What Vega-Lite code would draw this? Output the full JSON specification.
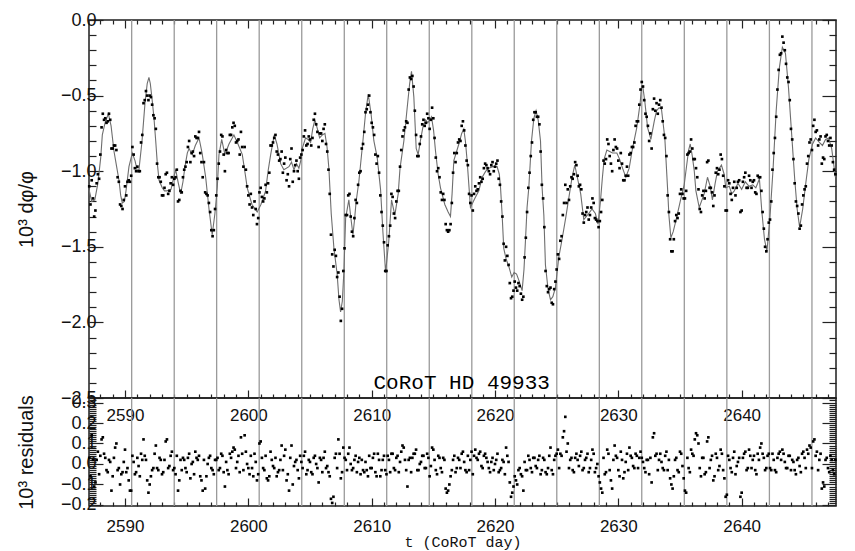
{
  "$schema": "https://vega.github.io/schema/vega-lite/v6.json",
  "padding": {"left": 15, "top": 10, "right": 10, "bottom": 0},
  "background": "#ffffff",
  "config": {
    "view": {"stroke": "#1e1e1e", "strokeWidth": 1.5},
    "axis": {"domain": false, "grid": false, "tickColor": "#222222", "tickWidth": 1.2, "labelFont": "Liberation Sans", "labelColor": "#111111", "labelFontSize": 18, "titleFont": "Liberation Sans", "titleFontSize": 20, "titleFontWeight": "normal", "titleColor": "#111111", "labelOverlap": false, "labelFlush": false}
  },
  "datasets": {
    "cuts": [{"t":2590.54},{"t":2593.99},{"t":2597.43},{"t":2600.88},{"t":2604.33},{"t":2607.78},{"t":2611.22},{"t":2614.67},{"t":2618.12},{"t":2621.56},{"t":2625.01},{"t":2628.46},{"t":2631.9},{"t":2635.35},{"t":2638.8},{"t":2642.25},{"t":2645.7}],
    "tag": [{"t":2617.3,"v":-2.4,"s":"CoRoT HD 49933"}],
    "model": [
      {"t":2587.08,"v":-1.12},{"t":2587.3,"v":-1.2},{"t":2587.55,"v":-1.19},{"t":2587.8,"v":-1.08},{"t":2588.03,"v":-0.91},{"t":2588.16,"v":-0.76},{"t":2588.38,"v":-0.68},{"t":2588.65,"v":-0.62},{"t":2588.87,"v":-0.7},{"t":2589.11,"v":-0.87},{"t":2589.32,"v":-0.97},{"t":2589.51,"v":-1.06},{"t":2589.65,"v":-1.16},{"t":2589.78,"v":-1.21},{"t":2589.95,"v":-1.2},{"t":2590.08,"v":-1.13},{"t":2590.32,"v":-0.97},{"t":2590.59,"v":-0.88},{"t":2590.81,"v":-0.93},{"t":2591.0,"v":-1.0},{"t":2591.13,"v":-0.99},{"t":2591.38,"v":-0.8},{"t":2591.62,"v":-0.55},{"t":2591.8,"v":-0.42},{"t":2591.94,"v":-0.38},{"t":2592.05,"v":-0.42},{"t":2592.19,"v":-0.52},{"t":2592.35,"v":-0.65},{"t":2592.49,"v":-0.8},{"t":2592.62,"v":-0.95},{"t":2592.76,"v":-1.06},{"t":2593.02,"v":-1.11},{"t":2593.2,"v":-1.13},{"t":2593.4,"v":-1.13},{"t":2593.73,"v":-1.12},{"t":2593.95,"v":-1.04},{"t":2594.11,"v":-0.99},{"t":2594.3,"v":-1.07},{"t":2594.51,"v":-1.15},{"t":2594.7,"v":-1.07},{"t":2594.86,"v":-0.97},{"t":2595.05,"v":-0.88},{"t":2595.19,"v":-0.85},{"t":2595.45,"v":-0.89},{"t":2595.7,"v":-0.83},{"t":2596.0,"v":-0.78},{"t":2596.25,"v":-0.88},{"t":2596.54,"v":-1.04},{"t":2596.81,"v":-1.25},{"t":2597.07,"v":-1.42},{"t":2597.29,"v":-1.28},{"t":2597.48,"v":-1.11},{"t":2597.62,"v":-0.89},{"t":2597.84,"v":-0.79},{"t":2598.1,"v":-0.89},{"t":2598.43,"v":-0.82},{"t":2598.83,"v":-0.76},{"t":2599.16,"v":-0.82},{"t":2599.51,"v":-0.89},{"t":2599.75,"v":-1.02},{"t":2599.91,"v":-1.11},{"t":2600.29,"v":-1.22},{"t":2600.72,"v":-1.27},{"t":2601.02,"v":-1.22},{"t":2601.4,"v":-1.13},{"t":2601.6,"v":-1.0},{"t":2601.81,"v":-0.89},{"t":2602.1,"v":-0.76},{"t":2602.32,"v":-0.82},{"t":2602.62,"v":-0.95},{"t":2602.88,"v":-0.99},{"t":2603.29,"v":-0.97},{"t":2603.5,"v":-0.94},{"t":2603.7,"v":-0.99},{"t":2603.9,"v":-0.95},{"t":2604.1,"v":-0.98},{"t":2604.25,"v":-0.93},{"t":2604.37,"v":-0.85},{"t":2604.64,"v":-0.78},{"t":2604.85,"v":-0.79},{"t":2605.05,"v":-0.81},{"t":2605.22,"v":-0.72},{"t":2605.4,"v":-0.66},{"t":2605.6,"v":-0.72},{"t":2605.78,"v":-0.78},{"t":2606.0,"v":-0.76},{"t":2606.21,"v":-0.75},{"t":2606.38,"v":-0.84},{"t":2606.53,"v":-0.98},{"t":2606.72,"v":-1.28},{"t":2606.94,"v":-1.51},{"t":2607.2,"v":-1.68},{"t":2607.35,"v":-1.85},{"t":2607.48,"v":-1.93},{"t":2607.62,"v":-1.86},{"t":2607.75,"v":-1.66},{"t":2607.89,"v":-1.31},{"t":2608.15,"v":-1.19},{"t":2608.3,"v":-1.3},{"t":2608.48,"v":-1.42},{"t":2608.6,"v":-1.33},{"t":2608.74,"v":-1.2},{"t":2608.96,"v":-1.07},{"t":2609.29,"v":-0.8},{"t":2609.5,"v":-0.62},{"t":2609.72,"v":-0.49},{"t":2609.95,"v":-0.62},{"t":2610.18,"v":-0.8},{"t":2610.45,"v":-0.91},{"t":2610.72,"v":-1.12},{"t":2610.91,"v":-1.4},{"t":2611.13,"v":-1.67},{"t":2611.39,"v":-1.46},{"t":2611.61,"v":-1.19},{"t":2611.88,"v":-1.29},{"t":2612.15,"v":-1.15},{"t":2612.3,"v":-0.98},{"t":2612.61,"v":-0.8},{"t":2612.88,"v":-0.58},{"t":2613.08,"v":-0.42},{"t":2613.23,"v":-0.34},{"t":2613.42,"v":-0.51},{"t":2613.61,"v":-0.85},{"t":2613.77,"v":-0.89},{"t":2613.95,"v":-0.8},{"t":2614.15,"v":-0.71},{"t":2614.37,"v":-0.66},{"t":2614.56,"v":-0.68},{"t":2614.85,"v":-0.64},{"t":2615.02,"v":-0.73},{"t":2615.18,"v":-0.87},{"t":2615.39,"v":-1.02},{"t":2615.58,"v":-1.11},{"t":2615.93,"v":-1.22},{"t":2616.2,"v":-1.27},{"t":2616.39,"v":-1.3},{"t":2616.52,"v":-1.15},{"t":2616.66,"v":-0.93},{"t":2617.07,"v":-0.82},{"t":2617.3,"v":-0.75},{"t":2617.47,"v":-0.72},{"t":2617.6,"v":-0.8},{"t":2617.74,"v":-0.93},{"t":2618.01,"v":-1.24},{"t":2618.36,"v":-1.18},{"t":2618.69,"v":-1.13},{"t":2618.96,"v":-1.04},{"t":2619.25,"v":-1.0},{"t":2619.5,"v":-0.98},{"t":2619.82,"v":-0.97},{"t":2620.17,"v":-0.97},{"t":2620.35,"v":-1.02},{"t":2620.45,"v":-1.11},{"t":2620.58,"v":-1.29},{"t":2620.71,"v":-1.51},{"t":2620.9,"v":-1.58},{"t":2621.12,"v":-1.63},{"t":2621.36,"v":-1.7},{"t":2621.55,"v":-1.67},{"t":2621.75,"v":-1.68},{"t":2621.93,"v":-1.72},{"t":2622.2,"v":-1.79},{"t":2622.35,"v":-1.65},{"t":2622.47,"v":-1.46},{"t":2622.6,"v":-1.24},{"t":2622.74,"v":-1.11},{"t":2622.96,"v":-0.8},{"t":2623.15,"v":-0.65},{"t":2623.33,"v":-0.6},{"t":2623.5,"v":-0.66},{"t":2623.69,"v":-0.8},{"t":2623.82,"v":-1.11},{"t":2623.96,"v":-1.29},{"t":2624.09,"v":-1.62},{"t":2624.3,"v":-1.78},{"t":2624.5,"v":-1.85},{"t":2624.69,"v":-1.83},{"t":2624.9,"v":-1.77},{"t":2625.17,"v":-1.57},{"t":2625.44,"v":-1.45},{"t":2625.75,"v":-1.3},{"t":2626.0,"v":-1.17},{"t":2626.25,"v":-1.04},{"t":2626.47,"v":-0.96},{"t":2626.7,"v":-1.05},{"t":2626.95,"v":-1.15},{"t":2627.2,"v":-1.32},{"t":2627.6,"v":-1.28},{"t":2627.87,"v":-1.25},{"t":2628.14,"v":-1.28},{"t":2628.35,"v":-1.35},{"t":2628.55,"v":-1.2},{"t":2628.7,"v":-1.05},{"t":2628.85,"v":-0.92},{"t":2629.07,"v":-0.86},{"t":2629.3,"v":-0.87},{"t":2629.53,"v":-0.88},{"t":2629.88,"v":-0.88},{"t":2630.1,"v":-0.92},{"t":2630.34,"v":-0.98},{"t":2630.61,"v":-1.04},{"t":2630.88,"v":-0.98},{"t":2631.15,"v":-0.85},{"t":2631.5,"v":-0.71},{"t":2631.77,"v":-0.55},{"t":2631.88,"v":-0.44},{"t":2632.0,"v":-0.45},{"t":2632.15,"v":-0.54},{"t":2632.37,"v":-0.71},{"t":2632.64,"v":-0.79},{"t":2632.91,"v":-0.67},{"t":2633.1,"v":-0.6},{"t":2633.31,"v":-0.58},{"t":2633.5,"v":-0.59},{"t":2633.77,"v":-0.78},{"t":2633.99,"v":-1.11},{"t":2634.1,"v":-1.29},{"t":2634.26,"v":-1.44},{"t":2634.45,"v":-1.4},{"t":2634.66,"v":-1.33},{"t":2635.02,"v":-1.2},{"t":2635.34,"v":-1.09},{"t":2635.48,"v":-1.0},{"t":2635.7,"v":-0.86},{"t":2635.83,"v":-0.82},{"t":2636.0,"v":-0.9},{"t":2636.16,"v":-1.0},{"t":2636.29,"v":-1.13},{"t":2636.56,"v":-1.24},{"t":2636.96,"v":-1.15},{"t":2637.23,"v":-1.04},{"t":2637.45,"v":-1.1},{"t":2637.63,"v":-1.19},{"t":2637.85,"v":-1.08},{"t":2638.04,"v":-1.0},{"t":2638.36,"v":-0.96},{"t":2638.58,"v":-1.02},{"t":2638.71,"v":-1.11},{"t":2639.0,"v":-1.1},{"t":2639.2,"v":-1.15},{"t":2639.4,"v":-1.13},{"t":2639.7,"v":-1.08},{"t":2640.0,"v":-1.12},{"t":2640.3,"v":-1.07},{"t":2640.6,"v":-1.1},{"t":2640.9,"v":-1.09},{"t":2641.15,"v":-1.11},{"t":2641.3,"v":-1.08},{"t":2641.44,"v":-1.05},{"t":2641.63,"v":-1.26},{"t":2641.85,"v":-1.45},{"t":2642.05,"v":-1.53},{"t":2642.3,"v":-1.3},{"t":2642.55,"v":-0.98},{"t":2642.8,"v":-0.6},{"t":2643.05,"v":-0.32},{"t":2643.3,"v":-0.18},{"t":2643.55,"v":-0.22},{"t":2643.8,"v":-0.45},{"t":2644.05,"v":-0.75},{"t":2644.3,"v":-1.05},{"t":2644.5,"v":-1.25},{"t":2644.7,"v":-1.37},{"t":2644.95,"v":-1.25},{"t":2645.2,"v":-1.08},{"t":2645.45,"v":-0.92},{"t":2645.75,"v":-0.82},{"t":2646.0,"v":-0.78},{"t":2646.3,"v":-0.81},{"t":2646.55,"v":-0.83},{"t":2646.8,"v":-0.79},{"t":2647.05,"v":-0.78},{"t":2647.3,"v":-0.85},{"t":2647.6,"v":-1.04}
    ],
    "obs": [
      {"t":2587.1,"o":-1.10,"r":0.03},{"t":2587.3,"o":-1.06,"r":0.14},{"t":2587.5,"o":-1.30,"r":-0.11},{"t":2587.7,"o":-1.08,"r":0.02},{"t":2587.9,"o":-1.05,"r":-0.05},
      {"t":2588.1,"o":-0.71,"r":0.12},{"t":2588.3,"o":-0.66,"r":0.05},{"t":2588.5,"o":-0.68,"r":-0.03},{"t":2588.7,"o":-0.62,"r":0.02},{"t":2588.9,"o":-0.85,"r":-0.13},
      {"t":2589.1,"o":-0.83,"r":0.03},{"t":2589.3,"o":-0.86,"r":0.10},{"t":2589.5,"o":-1.07,"r":-0.02},{"t":2589.7,"o":-1.23,"r":-0.05},{"t":2589.9,"o":-1.19,"r":0.01},
      {"t":2590.1,"o":-1.16,"r":-0.04},{"t":2590.3,"o":-1.06,"r":-0.08},{"t":2590.5,"o":-1.03,"r":-0.13},{"t":2590.7,"o":-0.89,"r":0.01},{"t":2590.9,"o":-1.00,"r":-0.04},
      {"t":2591.1,"o":-1.00,"r":-0.01},{"t":2591.3,"o":-0.81,"r":0.05},{"t":2591.5,"o":-0.55,"r":0.12},{"t":2591.7,"o":-0.47,"r":0.02},{"t":2591.9,"o":-0.53,"r":-0.14},
      {"t":2592.1,"o":-0.51,"r":-0.06},{"t":2592.3,"o":-0.63,"r":-0.02},{"t":2592.5,"o":-0.72,"r":0.09},{"t":2592.7,"o":-1.04,"r":-0.03},{"t":2592.9,"o":-1.07,"r":0.02},
      {"t":2593.1,"o":-1.16,"r":-0.04},{"t":2593.3,"o":-1.02,"r":0.11},{"t":2593.5,"o":-1.15,"r":-0.02},{"t":2593.7,"o":-1.08,"r":0.04},{"t":2593.9,"o":-1.09,"r":-0.03},
      {"t":2594.1,"o":-1.04,"r":-0.05},{"t":2594.3,"o":-1.20,"r":-0.13},{"t":2594.5,"o":-1.13,"r":0.02},{"t":2594.7,"o":-1.04,"r":0.03},{"t":2594.9,"o":-0.97,"r":-0.02},
      {"t":2595.1,"o":-0.84,"r":0.03},{"t":2595.3,"o":-0.94,"r":-0.07},{"t":2595.5,"o":-0.87,"r":0.01},{"t":2595.7,"o":-0.77,"r":0.06},{"t":2595.9,"o":-0.78,"r":0.02},
      {"t":2596.1,"o":-0.88,"r":-0.06},{"t":2596.3,"o":-1.04,"r":-0.13},{"t":2596.5,"o":-1.14,"r":-0.12},{"t":2596.7,"o":-1.16,"r":0.00},{"t":2596.9,"o":-1.27,"r":0.04},
      {"t":2597.1,"o":-1.43,"r":-0.03},{"t":2597.3,"o":-1.25,"r":0.02},{"t":2597.5,"o":-1.05,"r":0.03},{"t":2597.7,"o":-0.87,"r":-0.02},{"t":2597.9,"o":-0.77,"r":0.04},
      {"t":2598.1,"o":-1.00,"r":-0.11},{"t":2598.3,"o":-0.88,"r":-0.03},{"t":2598.5,"o":-0.76,"r":0.05},{"t":2598.7,"o":-0.71,"r":0.06},{"t":2598.9,"o":-0.70,"r":0.07},
      {"t":2599.1,"o":-0.80,"r":0.01},{"t":2599.3,"o":-0.89,"r":-0.04},{"t":2599.5,"o":-0.84,"r":0.05},{"t":2599.7,"o":-0.84,"r":0.14},{"t":2599.9,"o":-1.10,"r":0.00},
      {"t":2600.1,"o":-1.22,"r":-0.05},{"t":2600.3,"o":-1.24,"r":-0.02},{"t":2600.5,"o":-1.20,"r":0.05},{"t":2600.7,"o":-1.35,"r":-0.08},{"t":2600.9,"o":-1.14,"r":0.10},
      {"t":2601.1,"o":-1.17,"r":0.03},{"t":2601.3,"o":-1.18,"r":-0.03},{"t":2601.5,"o":-1.14,"r":-0.07},{"t":2601.7,"o":-1.01,"r":-0.06},{"t":2601.9,"o":-0.83,"r":0.02},
      {"t":2602.1,"o":-0.78,"r":-0.02},{"t":2602.3,"o":-0.87,"r":-0.06},{"t":2602.5,"o":-0.93,"r":-0.03},{"t":2602.7,"o":-0.87,"r":0.09},{"t":2602.9,"o":-0.95,"r":0.04},
      {"t":2603.1,"o":-1.06,"r":-0.08},{"t":2603.3,"o":-1.10,"r":-0.13},{"t":2603.5,"o":-0.85,"r":0.09},{"t":2603.7,"o":-1.00,"r":-0.01},{"t":2603.9,"o":-0.93,"r":0.02},
      {"t":2604.1,"o":-1.05,"r":-0.07},{"t":2604.3,"o":-0.89,"r":0.01},{"t":2604.5,"o":-0.77,"r":0.04},{"t":2604.7,"o":-0.83,"r":-0.05},{"t":2604.9,"o":-0.77,"r":0.02},
      {"t":2605.1,"o":-0.83,"r":-0.04},{"t":2605.3,"o":-0.66,"r":0.03},{"t":2605.5,"o":-0.69,"r":0.00},{"t":2605.7,"o":-0.84,"r":-0.09},{"t":2605.9,"o":-0.75,"r":0.02},
      {"t":2606.1,"o":-0.72,"r":0.03},{"t":2606.3,"o":-0.82,"r":-0.02},{"t":2606.5,"o":-0.99,"r":-0.04},{"t":2606.7,"o":-1.42,"r":-0.17},{"t":2606.9,"o":-1.63,"r":-0.16},
      {"t":2607.1,"o":-1.56,"r":0.05},{"t":2607.3,"o":-1.67,"r":0.12},{"t":2607.5,"o":-1.99,"r":-0.07},{"t":2607.7,"o":-1.66,"r":0.08},{"t":2607.9,"o":-1.29,"r":0.02},
      {"t":2608.1,"o":-1.16,"r":0.05},{"t":2608.3,"o":-1.30,"r":0.00},{"t":2608.5,"o":-1.43,"r":-0.02},{"t":2608.7,"o":-1.19,"r":0.04},{"t":2608.9,"o":-1.09,"r":0.01},
      {"t":2609.1,"o":-1.00,"r":-0.05},{"t":2609.3,"o":-0.82,"r":-0.03},{"t":2609.5,"o":-0.61,"r":0.01},{"t":2609.7,"o":-0.56,"r":-0.06},{"t":2609.9,"o":-0.61,"r":-0.02},
      {"t":2610.1,"o":-0.71,"r":0.03},{"t":2610.3,"o":-0.89,"r":-0.04},{"t":2610.5,"o":-0.90,"r":0.05},{"t":2610.7,"o":-1.16,"r":-0.06},{"t":2610.9,"o":-1.36,"r":0.02},
      {"t":2611.1,"o":-1.66,"r":-0.03},{"t":2611.3,"o":-1.49,"r":0.04},{"t":2611.5,"o":-1.36,"r":-0.04},{"t":2611.7,"o":-1.17,"r":0.05},{"t":2611.9,"o":-1.31,"r":-0.03},
      {"t":2612.1,"o":-1.13,"r":0.04},{"t":2612.3,"o":-0.97,"r":0.01},{"t":2612.5,"o":-0.77,"r":0.09},{"t":2612.7,"o":-0.71,"r":0.02},{"t":2612.9,"o":-0.68,"r":-0.11},
      {"t":2613.1,"o":-0.38,"r":0.03},{"t":2613.3,"o":-0.37,"r":0.03},{"t":2613.5,"o":-0.60,"r":0.05},{"t":2613.7,"o":-0.90,"r":-0.03},{"t":2613.9,"o":-0.82,"r":0.00},
      {"t":2614.1,"o":-0.69,"r":0.04},{"t":2614.3,"o":-0.70,"r":-0.02},{"t":2614.5,"o":-0.62,"r":0.05},{"t":2614.7,"o":-0.72,"r":-0.06},{"t":2614.9,"o":-0.58,"r":0.08},
      {"t":2615.1,"o":-0.78,"r":0.02},{"t":2615.3,"o":-1.00,"r":-0.05},{"t":2615.5,"o":-1.04,"r":0.03},{"t":2615.7,"o":-1.19,"r":-0.04},{"t":2615.9,"o":-1.19,"r":0.02},
      {"t":2616.1,"o":-1.39,"r":-0.14},{"t":2616.3,"o":-1.39,"r":-0.10},{"t":2616.5,"o":-1.21,"r":-0.03},{"t":2616.7,"o":-0.88,"r":0.04},{"t":2616.9,"o":-0.88,"r":-0.02},
      {"t":2617.1,"o":-0.79,"r":0.02},{"t":2617.3,"o":-0.70,"r":0.05},{"t":2617.5,"o":-0.73,"r":0.01},{"t":2617.7,"o":-0.93,"r":-0.04},{"t":2617.9,"o":-1.15,"r":-0.03},
      {"t":2618.1,"o":-1.16,"r":0.06},{"t":2618.3,"o":-1.15,"r":0.04},{"t":2618.5,"o":-1.13,"r":0.03},{"t":2618.7,"o":-1.08,"r":0.05},{"t":2618.9,"o":-1.07,"r":-0.01},
      {"t":2619.1,"o":-0.98,"r":0.04},{"t":2619.3,"o":-0.96,"r":0.03},{"t":2619.5,"o":-1.00,"r":-0.02},{"t":2619.7,"o":-0.96,"r":0.01},{"t":2619.9,"o":-1.00,"r":-0.03},
      {"t":2620.1,"o":-0.95,"r":0.02},{"t":2620.3,"o":-1.05,"r":-0.04},{"t":2620.5,"o":-1.20,"r":-0.02},{"t":2620.7,"o":-1.48,"r":0.01},{"t":2620.9,"o":-1.50,"r":0.08},
      {"t":2621.1,"o":-1.62,"r":0.01},{"t":2621.3,"o":-1.84,"r":-0.16},{"t":2621.5,"o":-1.79,"r":-0.11},{"t":2621.7,"o":-1.77,"r":-0.08},{"t":2621.9,"o":-1.74,"r":-0.03},
      {"t":2622.1,"o":-1.81,"r":-0.05},{"t":2622.3,"o":-1.83,"r":-0.13},{"t":2622.5,"o":-1.44,"r":-0.03},{"t":2622.7,"o":-1.11,"r":0.04},{"t":2622.9,"o":-0.90,"r":-0.02},
      {"t":2623.1,"o":-0.66,"r":0.03},{"t":2623.3,"o":-0.61,"r":-0.01},{"t":2623.5,"o":-0.64,"r":0.02},{"t":2623.7,"o":-0.87,"r":-0.05},{"t":2623.9,"o":-1.18,"r":0.03},
      {"t":2624.1,"o":-1.66,"r":-0.04},{"t":2624.3,"o":-1.80,"r":-0.02},{"t":2624.5,"o":-1.77,"r":0.08},{"t":2624.7,"o":-1.88,"r":-0.05},{"t":2624.9,"o":-1.73,"r":0.04},
      {"t":2625.1,"o":-1.55,"r":0.07},{"t":2625.3,"o":-1.46,"r":0.05},{"t":2625.5,"o":-1.29,"r":0.13},{"t":2625.7,"o":-1.09,"r":0.23},{"t":2625.9,"o":-1.12,"r":0.10},
      {"t":2626.1,"o":-1.10,"r":0.02},{"t":2626.3,"o":-1.05,"r":-0.03},{"t":2626.5,"o":-0.94,"r":0.03},{"t":2626.7,"o":-1.03,"r":0.02},{"t":2626.9,"o":-1.09,"r":0.04},
      {"t":2627.1,"o":-1.28,"r":-0.03},{"t":2627.3,"o":-1.29,"r":0.02},{"t":2627.5,"o":-1.24,"r":0.05},{"t":2627.7,"o":-1.29,"r":-0.02},{"t":2627.9,"o":-1.18,"r":0.07},
      {"t":2628.1,"o":-1.31,"r":-0.04},{"t":2628.3,"o":-1.33,"r":0.00},{"t":2628.5,"o":-1.33,"r":-0.09},{"t":2628.7,"o":-1.19,"r":-0.14},{"t":2628.9,"o":-0.95,"r":-0.05},
      {"t":2629.1,"o":-0.79,"r":0.07},{"t":2629.3,"o":-0.90,"r":-0.03},{"t":2629.5,"o":-1.00,"r":-0.12},{"t":2629.7,"o":-0.79,"r":0.09},{"t":2629.9,"o":-0.85,"r":0.03},
      {"t":2630.1,"o":-0.98,"r":-0.06},{"t":2630.3,"o":-0.95,"r":0.02},{"t":2630.5,"o":-1.06,"r":-0.04},{"t":2630.7,"o":-0.97,"r":0.05},{"t":2630.9,"o":-0.89,"r":0.08},
      {"t":2631.1,"o":-0.84,"r":0.03},{"t":2631.3,"o":-0.81,"r":-0.02},{"t":2631.5,"o":-0.67,"r":0.04},{"t":2631.7,"o":-0.56,"r":0.03},{"t":2631.9,"o":-0.41,"r":0.03},
      {"t":2632.1,"o":-0.53,"r":-0.02},{"t":2632.3,"o":-0.64,"r":0.02},{"t":2632.5,"o":-0.80,"r":-0.05},{"t":2632.7,"o":-0.85,"r":-0.09},{"t":2632.9,"o":-0.52,"r":0.15},
      {"t":2633.1,"o":-0.55,"r":0.05},{"t":2633.3,"o":-0.56,"r":0.02},{"t":2633.5,"o":-0.58,"r":0.01},{"t":2633.7,"o":-0.76,"r":-0.03},{"t":2633.9,"o":-0.90,"r":0.06},
      {"t":2634.1,"o":-1.27,"r":0.02},{"t":2634.3,"o":-1.53,"r":-0.10},{"t":2634.5,"o":-1.45,"r":-0.06},{"t":2634.7,"o":-1.29,"r":0.03},{"t":2634.9,"o":-1.28,"r":-0.04},
      {"t":2635.1,"o":-1.12,"r":0.05},{"t":2635.3,"o":-1.18,"r":-0.07},{"t":2635.5,"o":-1.13,"r":-0.14},{"t":2635.7,"o":-0.88,"r":-0.02},{"t":2635.9,"o":-0.79,"r":0.07},
      {"t":2636.1,"o":-0.92,"r":0.04},{"t":2636.3,"o":-0.98,"r":0.15},{"t":2636.5,"o":-1.12,"r":0.10},{"t":2636.7,"o":-1.27,"r":-0.06},{"t":2636.9,"o":-1.13,"r":0.03},
      {"t":2637.1,"o":-1.13,"r":-0.04},{"t":2637.3,"o":-0.93,"r":0.13},{"t":2637.5,"o":-1.11,"r":0.02},{"t":2637.7,"o":-1.23,"r":-0.08},{"t":2637.9,"o":-1.01,"r":0.05},
      {"t":2638.1,"o":-1.02,"r":-0.03},{"t":2638.3,"o":-0.89,"r":0.07},{"t":2638.5,"o":-1.03,"r":-0.03},{"t":2638.7,"o":-1.26,"r":-0.16},{"t":2638.9,"o":-1.06,"r":0.04},
      {"t":2639.1,"o":-1.15,"r":-0.02},{"t":2639.3,"o":-1.11,"r":0.03},{"t":2639.5,"o":-1.16,"r":-0.05},{"t":2639.7,"o":-1.07,"r":0.01},{"t":2639.9,"o":-1.27,"r":-0.16},
      {"t":2640.1,"o":-1.07,"r":0.03},{"t":2640.3,"o":-1.01,"r":0.06},{"t":2640.5,"o":-1.11,"r":-0.02},{"t":2640.7,"o":-1.06,"r":0.04},{"t":2640.9,"o":-1.07,"r":0.02},
      {"t":2641.1,"o":-1.14,"r":-0.03},{"t":2641.3,"o":-1.03,"r":0.05},{"t":2641.5,"o":-1.04,"r":0.08},{"t":2641.7,"o":-1.27,"r":0.05},{"t":2641.9,"o":-1.50,"r":-0.03},
      {"t":2642.1,"o":-1.45,"r":0.04},{"t":2642.3,"o":-1.32,"r":-0.02},{"t":2642.5,"o":-0.99,"r":0.05},{"t":2642.7,"o":-0.78,"r":-0.03},{"t":2642.9,"o":-0.46,"r":0.03},
      {"t":2643.1,"o":-0.23,"r":0.06},{"t":2643.3,"o":-0.11,"r":0.07},{"t":2643.5,"o":-0.20,"r":0.01},{"t":2643.7,"o":-0.38,"r":-0.02},{"t":2643.9,"o":-0.53,"r":0.04},
      {"t":2644.1,"o":-0.79,"r":0.02},{"t":2644.3,"o":-1.08,"r":-0.03},{"t":2644.5,"o":-1.23,"r":0.02},{"t":2644.7,"o":-1.38,"r":-0.01},{"t":2644.9,"o":-1.22,"r":0.05},
      {"t":2645.1,"o":-1.12,"r":0.03},{"t":2645.3,"o":-0.95,"r":0.07},{"t":2645.5,"o":-0.81,"r":0.09},{"t":2645.7,"o":-0.86,"r":-0.02},{"t":2645.9,"o":-0.66,"r":0.12},
      {"t":2646.1,"o":-0.73,"r":0.06},{"t":2646.3,"o":-0.79,"r":0.02},{"t":2646.5,"o":-0.95,"r":-0.12},{"t":2646.7,"o":-0.92,"r":-0.11},{"t":2646.9,"o":-0.76,"r":0.03},
      {"t":2647.1,"o":-0.83,"r":-0.04},{"t":2647.3,"o":-0.83,"r":0.02},{"t":2647.5,"o":-0.99,"r":-0.05},
      {"t":2587.2,"o":-1.22,"r":-0.06},{"t":2587.4,"o":-1.18,"r":0.02},{"t":2587.6,"o":-1.26,"r":-0.09},{"t":2587.8,"o":-1.02,"r":0.06},{"t":2588.0,"o":-0.89,"r":0.04},
      {"t":2588.2,"o":-0.62,"r":0.13},{"t":2588.4,"o":-0.65,"r":0.03},{"t":2588.6,"o":-0.67,"r":-0.04},{"t":2588.8,"o":-0.66,"r":0.01},{"t":2589.0,"o":-0.85,"r":-0.06},
      {"t":2589.2,"o":-0.83,"r":0.08},{"t":2589.4,"o":-1.04,"r":-0.03},{"t":2589.6,"o":-1.22,"r":-0.10},{"t":2589.8,"o":-1.25,"r":-0.04},{"t":2590.0,"o":-1.10,"r":0.07},
      {"t":2590.2,"o":-1.07,"r":-0.02},{"t":2590.4,"o":-1.07,"r":-0.13},{"t":2590.6,"o":-0.84,"r":0.04},{"t":2590.8,"o":-0.98,"r":-0.05},{"t":2591.0,"o":-0.97,"r":0.03},
      {"t":2591.2,"o":-1.00,"r":-0.06},{"t":2591.4,"o":-0.76,"r":0.02},{"t":2591.6,"o":-0.53,"r":0.04},{"t":2591.8,"o":-0.50,"r":-0.08},{"t":2592.0,"o":-0.50,"r":-0.10},
      {"t":2592.2,"o":-0.56,"r":-0.03},{"t":2592.4,"o":-0.65,"r":0.05},{"t":2592.6,"o":-0.95,"r":-0.02},{"t":2592.8,"o":-1.04,"r":0.03},{"t":2593.0,"o":-1.16,"r":-0.05},
      {"t":2593.2,"o":-1.11,"r":0.02},{"t":2593.4,"o":-1.01,"r":0.12},{"t":2593.6,"o":-1.13,"r":-0.01},{"t":2593.8,"o":-1.04,"r":0.06},{"t":2594.0,"o":-1.05,"r":-0.02},
      {"t":2594.2,"o":-0.99,"r":0.04},{"t":2594.4,"o":-1.19,"r":-0.08},{"t":2594.6,"o":-1.14,"r":-0.03},{"t":2594.8,"o":-0.99,"r":0.02},{"t":2595.0,"o":-0.94,"r":-0.04},
      {"t":2595.2,"o":-0.80,"r":0.05},{"t":2595.4,"o":-0.88,"r":0.00},{"t":2595.6,"o":-0.90,"r":-0.05},{"t":2595.8,"o":-0.78,"r":0.03},{"t":2596.0,"o":-0.74,"r":0.04},
      {"t":2596.2,"o":-0.94,"r":-0.08},{"t":2596.4,"o":-0.94,"r":0.02},{"t":2596.6,"o":-1.15,"r":-0.06},{"t":2596.8,"o":-1.21,"r":0.03},{"t":2597.0,"o":-1.39,"r":-0.02},
      {"t":2597.2,"o":-1.39,"r":-0.05},{"t":2597.4,"o":-1.16,"r":0.02},{"t":2597.6,"o":-0.95,"r":-0.03},{"t":2597.8,"o":-0.76,"r":0.05},{"t":2598.0,"o":-0.89,"r":-0.04},
      {"t":2598.2,"o":-0.86,"r":0.01},{"t":2598.4,"o":-0.88,"r":-0.05},{"t":2598.6,"o":-0.76,"r":0.03},{"t":2598.8,"o":-0.68,"r":0.08},{"t":2599.0,"o":-0.81,"r":-0.02},
      {"t":2599.2,"o":-0.79,"r":0.04},{"t":2599.4,"o":-0.74,"r":0.13},{"t":2599.6,"o":-0.97,"r":-0.03},{"t":2599.8,"o":-0.99,"r":0.06},{"t":2600.0,"o":-1.16,"r":-0.02},
      {"t":2600.2,"o":-1.15,"r":0.04},{"t":2600.4,"o":-1.29,"r":-0.06},{"t":2600.6,"o":-1.25,"r":0.01},{"t":2600.8,"o":-1.31,"r":-0.05},{"t":2601.0,"o":-1.11,"r":0.11},
      {"t":2601.2,"o":-1.20,"r":-0.02},{"t":2601.4,"o":-1.09,"r":0.04},{"t":2601.6,"o":-1.08,"r":-0.08},{"t":2601.8,"o":-0.83,"r":0.06},{"t":2602.0,"o":-0.81,"r":-0.01},
      {"t":2602.2,"o":-0.76,"r":0.03},{"t":2602.4,"o":-0.89,"r":-0.04},{"t":2602.6,"o":-0.92,"r":0.02},{"t":2602.8,"o":-1.01,"r":-0.03},{"t":2603.0,"o":-0.91,"r":0.07},
      {"t":2603.2,"o":-1.02,"r":-0.05},{"t":2603.4,"o":-0.92,"r":0.03},{"t":2603.6,"o":-1.07,"r":-0.10},{"t":2603.8,"o":-0.96,"r":0.01},{"t":2604.0,"o":-1.00,"r":-0.03},
      {"t":2604.2,"o":-0.91,"r":0.04},{"t":2604.4,"o":-0.86,"r":-0.02},{"t":2604.6,"o":-0.73,"r":0.06},{"t":2604.8,"o":-0.82,"r":-0.03},{"t":2605.0,"o":-0.79,"r":0.01},
      {"t":2605.2,"o":-0.78,"r":-0.05},{"t":2605.4,"o":-0.62,"r":0.04},{"t":2605.6,"o":-0.74,"r":-0.02},{"t":2605.8,"o":-0.75,"r":0.03},{"t":2606.0,"o":-0.80,"r":-0.04},
      {"t":2606.2,"o":-0.69,"r":0.06},{"t":2606.4,"o":-0.87,"r":-0.01},{"t":2606.6,"o":-1.15,"r":-0.06},{"t":2606.8,"o":-1.55,"r":-0.19},{"t":2607.0,"o":-1.52,"r":0.03},
      {"t":2607.2,"o":-1.70,"r":-0.02},{"t":2607.4,"o":-1.83,"r":0.05},{"t":2607.6,"o":-1.91,"r":-0.04},{"t":2607.8,"o":-1.51,"r":0.03},{"t":2608.0,"o":-1.29,"r":-0.03},
      {"t":2608.2,"o":-1.15,"r":0.08},{"t":2608.4,"o":-1.40,"r":-0.03},{"t":2608.6,"o":-1.31,"r":0.02},{"t":2608.8,"o":-1.21,"r":-0.04},{"t":2609.0,"o":-1.01,"r":0.03},
      {"t":2609.2,"o":-0.85,"r":0.02},{"t":2609.4,"o":-0.74,"r":-0.04},{"t":2609.6,"o":-0.59,"r":-0.03},{"t":2609.8,"o":-0.50,"r":0.04},{"t":2610.0,"o":-0.68,"r":-0.02},
      {"t":2610.2,"o":-0.76,"r":0.05},{"t":2610.4,"o":-0.95,"r":-0.06},{"t":2610.6,"o":-1.01,"r":0.02},{"t":2610.8,"o":-1.27,"r":-0.03},{"t":2611.0,"o":-1.47,"r":0.04},
      {"t":2611.2,"o":-1.66,"r":-0.05},{"t":2611.4,"o":-1.43,"r":0.02},{"t":2611.6,"o":-1.15,"r":0.05},{"t":2611.8,"o":-1.28,"r":-0.02},{"t":2612.0,"o":-1.20,"r":0.03},
      {"t":2612.2,"o":-1.13,"r":-0.04},{"t":2612.4,"o":-0.86,"r":0.06},{"t":2612.6,"o":-0.73,"r":0.08},{"t":2612.8,"o":-0.67,"r":-0.03},{"t":2613.0,"o":-0.46,"r":0.02},
      {"t":2613.2,"o":-0.39,"r":-0.04},{"t":2613.4,"o":-0.44,"r":0.05},{"t":2613.6,"o":-0.76,"r":0.07},{"t":2613.8,"o":-0.90,"r":-0.03},{"t":2614.0,"o":-0.77,"r":0.01},
      {"t":2614.2,"o":-0.66,"r":0.04},{"t":2614.4,"o":-0.68,"r":-0.02},{"t":2614.6,"o":-0.65,"r":0.03},{"t":2614.8,"o":-0.66,"r":-0.01},{"t":2615.0,"o":-0.65,"r":0.07},
      {"t":2615.2,"o":-0.91,"r":-0.03},{"t":2615.4,"o":-0.98,"r":0.04},{"t":2615.6,"o":-1.14,"r":-0.02},{"t":2615.8,"o":-1.15,"r":0.03},{"t":2616.0,"o":-1.35,"r":-0.12},
      {"t":2616.2,"o":-1.40,"r":-0.13},{"t":2616.4,"o":-1.35,"r":-0.06},{"t":2616.6,"o":-1.01,"r":0.02},{"t":2616.8,"o":-0.94,"r":-0.04},{"t":2617.0,"o":-0.81,"r":0.03},
      {"t":2617.2,"o":-0.80,"r":-0.02},{"t":2617.4,"o":-0.67,"r":0.06},{"t":2617.6,"o":-0.83,"r":-0.03},{"t":2617.8,"o":-0.96,"r":0.04},{"t":2618.0,"o":-1.21,"r":0.02},
      {"t":2618.2,"o":-1.26,"r":-0.05},{"t":2618.4,"o":-1.10,"r":0.07},{"t":2618.6,"o":-1.12,"r":0.02},{"t":2618.8,"o":-1.04,"r":0.06},{"t":2619.0,"o":-1.05,"r":-0.02},
      {"t":2619.2,"o":-0.95,"r":0.05},{"t":2619.4,"o":-0.98,"r":0.01},{"t":2619.6,"o":-1.02,"r":-0.04},{"t":2619.8,"o":-0.94,"r":0.03},{"t":2620.0,"o":-0.97,"r":0.00},
      {"t":2620.2,"o":-0.93,"r":0.05},{"t":2620.4,"o":-1.09,"r":-0.03},{"t":2620.6,"o":-1.30,"r":0.02},{"t":2620.8,"o":-1.59,"r":-0.05},{"t":2621.0,"o":-1.56,"r":0.04},
      {"t":2621.2,"o":-1.74,"r":-0.09},{"t":2621.4,"o":-1.83,"r":-0.14},{"t":2621.6,"o":-1.73,"r":-0.06},{"t":2621.8,"o":-1.79,"r":-0.10},{"t":2622.0,"o":-1.76,"r":-0.02},
      {"t":2622.2,"o":-1.85,"r":-0.06},{"t":2622.4,"o":-1.57,"r":0.01},{"t":2622.6,"o":-1.27,"r":-0.03},{"t":2622.8,"o":-1.01,"r":0.02},{"t":2623.0,"o":-0.81,"r":-0.04},
      {"t":2623.2,"o":-0.61,"r":0.03},{"t":2623.4,"o":-0.64,"r":-0.02},{"t":2623.6,"o":-0.69,"r":0.04},{"t":2623.8,"o":-1.09,"r":-0.03},{"t":2624.0,"o":-1.37,"r":0.02},
      {"t":2624.2,"o":-1.76,"r":-0.05},{"t":2624.4,"o":-1.78,"r":0.04},{"t":2624.6,"o":-1.87,"r":-0.03},{"t":2624.8,"o":-1.78,"r":0.02},{"t":2625.0,"o":-1.65,"r":0.05},
      {"t":2625.2,"o":-1.58,"r":-0.02},{"t":2625.4,"o":-1.43,"r":0.04},{"t":2625.6,"o":-1.21,"r":0.16},{"t":2625.8,"o":-1.21,"r":0.06},{"t":2626.0,"o":-1.19,"r":-0.02},
      {"t":2626.2,"o":-1.04,"r":0.03},{"t":2626.4,"o":-1.02,"r":-0.04},{"t":2626.6,"o":-0.96,"r":0.05},{"t":2626.8,"o":-1.10,"r":-0.01},{"t":2627.0,"o":-1.12,"r":0.06},
      {"t":2627.2,"o":-1.34,"r":-0.02},{"t":2627.4,"o":-1.27,"r":0.03},{"t":2627.6,"o":-1.32,"r":-0.04},{"t":2627.8,"o":-1.24,"r":0.02},{"t":2628.0,"o":-1.21,"r":0.05},
      {"t":2628.2,"o":-1.32,"r":-0.02},{"t":2628.4,"o":-1.37,"r":-0.06},{"t":2628.6,"o":-1.27,"r":-0.12},{"t":2628.8,"o":-0.93,"r":0.03},{"t":2629.0,"o":-0.92,"r":-0.04},
      {"t":2629.2,"o":-0.82,"r":0.05},{"t":2629.4,"o":-0.95,"r":-0.08},{"t":2629.6,"o":-0.86,"r":0.02},{"t":2629.8,"o":-0.84,"r":0.04},{"t":2630.0,"o":-0.93,"r":-0.03},
      {"t":2630.2,"o":-0.88,"r":0.06},{"t":2630.4,"o":-1.06,"r":-0.07},{"t":2630.6,"o":-1.03,"r":0.01},{"t":2630.8,"o":-1.03,"r":-0.03},{"t":2631.0,"o":-0.88,"r":0.04},
      {"t":2631.2,"o":-0.84,"r":-0.01},{"t":2631.4,"o":-0.70,"r":0.05},{"t":2631.6,"o":-0.67,"r":-0.02},{"t":2631.8,"o":-0.46,"r":0.06},{"t":2632.0,"o":-0.44,"r":0.01},
      {"t":2632.2,"o":-0.62,"r":-0.04},{"t":2632.4,"o":-0.70,"r":0.02},{"t":2632.6,"o":-0.75,"r":0.03},{"t":2632.8,"o":-0.59,"r":0.13},{"t":2633.0,"o":-0.60,"r":0.04},
      {"t":2633.2,"o":-0.62,"r":-0.03},{"t":2633.4,"o":-0.53,"r":0.05},{"t":2633.6,"o":-0.67,"r":-0.02},{"t":2633.8,"o":-0.78,"r":0.04},{"t":2634.0,"o":-1.16,"r":-0.03},
      {"t":2634.2,"o":-1.45,"r":-0.07},{"t":2634.4,"o":-1.53,"r":-0.12},{"t":2634.6,"o":-1.33,"r":0.02},{"t":2634.8,"o":-1.31,"r":-0.03},{"t":2635.0,"o":-1.15,"r":0.06},
      {"t":2635.2,"o":-1.15,"r":-0.01},{"t":2635.4,"o":-1.18,"r":-0.13},{"t":2635.6,"o":-0.89,"r":0.03},{"t":2635.8,"o":-0.87,"r":-0.04},{"t":2636.0,"o":-0.85,"r":0.05},
      {"t":2636.2,"o":-0.92,"r":0.12},{"t":2636.4,"o":-1.04,"r":0.14},{"t":2636.6,"o":-1.25,"r":-0.02},{"t":2636.8,"o":-1.16,"r":0.03},{"t":2637.0,"o":-1.18,"r":-0.05},
      {"t":2637.2,"o":-0.94,"r":0.11},{"t":2637.4,"o":-1.11,"r":-0.02},{"t":2637.6,"o":-1.14,"r":0.04},{"t":2637.8,"o":-1.16,"r":-0.06},{"t":2638.0,"o":-0.98,"r":0.03},
      {"t":2638.2,"o":-0.99,"r":-0.01},{"t":2638.4,"o":-0.92,"r":0.05},{"t":2638.6,"o":-1.10,"r":-0.07},{"t":2638.8,"o":-1.26,"r":-0.15},{"t":2639.0,"o":-1.08,"r":0.02},
      {"t":2639.2,"o":-1.19,"r":-0.04},{"t":2639.4,"o":-1.07,"r":0.06},{"t":2639.6,"o":-1.11,"r":-0.01},{"t":2639.8,"o":-1.06,"r":0.03},{"t":2640.0,"o":-1.26,"r":-0.14},
      {"t":2640.2,"o":-1.04,"r":0.05},{"t":2640.4,"o":-1.11,"r":-0.03},{"t":2640.6,"o":-1.03,"r":0.07},{"t":2640.8,"o":-1.11,"r":-0.02},{"t":2641.0,"o":-1.06,"r":0.04},
      {"t":2641.2,"o":-1.15,"r":-0.05},{"t":2641.4,"o":-1.04,"r":0.02},{"t":2641.6,"o":-1.13,"r":0.10},{"t":2641.8,"o":-1.38,"r":0.03},{"t":2642.0,"o":-1.53,"r":-0.02},
      {"t":2642.2,"o":-1.34,"r":0.05},{"t":2642.4,"o":-1.20,"r":-0.03},{"t":2642.6,"o":-0.88,"r":0.02},{"t":2642.8,"o":-0.64,"r":-0.04},{"t":2643.0,"o":-0.33,"r":0.05},
      {"t":2643.2,"o":-0.22,"r":0.02},{"t":2643.4,"o":-0.15,"r":0.05},{"t":2643.6,"o":-0.29,"r":-0.02},{"t":2643.8,"o":-0.41,"r":0.04},{"t":2644.0,"o":-0.72,"r":-0.03},
      {"t":2644.2,"o":-0.92,"r":0.01},{"t":2644.4,"o":-1.20,"r":-0.05},{"t":2644.6,"o":-1.28,"r":0.03},{"t":2644.8,"o":-1.36,"r":-0.04},{"t":2645.0,"o":-1.16,"r":0.06},
      {"t":2645.2,"o":-1.10,"r":-0.02},{"t":2645.4,"o":-0.90,"r":0.05},{"t":2645.6,"o":-0.79,"r":0.08},{"t":2645.8,"o":-0.70,"r":0.11},{"t":2646.0,"o":-0.74,"r":0.04},
      {"t":2646.2,"o":-0.83,"r":-0.03},{"t":2646.4,"o":-0.77,"r":0.05},{"t":2646.6,"o":-0.91,"r":-0.09},{"t":2646.8,"o":-0.77,"r":0.02},{"t":2647.0,"o":-0.80,"r":-0.02},
      {"t":2647.2,"o":-0.78,"r":0.04},{"t":2647.4,"o":-0.94,"r":-0.03},{"t":2647.6,"o":-1.02,"r":0.02}
    ]
  },
  "spacing": 0,
  "bounds": "flush",
  "vconcat": [
    {
      "width": 747,
      "height": 378,
      "resolve": {"axis": {"x": "independent", "y": "independent"}},
      "layer": [
        {
          "data": {"name": "cuts"},
          "mark": {"type": "rule", "color": "#9a9a9a", "strokeWidth": 1.3},
          "encoding": {
            "x": {"field": "t", "type": "quantitative", "scale": {"domain": [2587.08, 2647.65], "nice": false, "zero": false}, "axis": null}
          }
        },
        {
          "data": {"name": "model"},
          "mark": {"type": "line", "color": "#6e6e6e", "strokeWidth": 1.1},
          "encoding": {
            "x": {"field": "t", "type": "quantitative", "scale": {"domain": [2587.08, 2647.65], "nice": false, "zero": false},
              "axis": {"orient": "bottom", "title": null, "labels": false,
                "values": [2588,2589,2590,2591,2592,2593,2594,2595,2596,2597,2598,2599,2600,2601,2602,2603,2604,2605,2606,2607,2608,2609,2610,2611,2612,2613,2614,2615,2616,2617,2618,2619,2620,2621,2622,2623,2624,2625,2626,2627,2628,2629,2630,2631,2632,2633,2634,2635,2636,2637,2638,2639,2640,2641,2642,2643,2644,2645,2646,2647],
                "tickSize": {"condition": {"test": "datum.value % 10 === 0", "value": -8}, "value": -4}}},
            "y": {"field": "v", "type": "quantitative", "scale": {"domain": [-2.5, 0], "nice": false, "zero": false},
              "axis": {"orient": "left", "title": "10³ dφ/φ", "titlePadding": 24, "format": ".1f",
                "values": [0,-0.1,-0.2,-0.3,-0.4,-0.5,-0.6,-0.7,-0.8,-0.9,-1,-1.1,-1.2,-1.3,-1.4,-1.5,-1.6,-1.7,-1.8,-1.9,-2,-2.1,-2.2,-2.3,-2.4,-2.5],
                "labelExpr": "abs(datum.value*2 - round(datum.value*2)) < 0.001 ? datum.label : ''",
                "labelPadding": 7,
                "tickSize": {"condition": {"test": "abs(datum.value*2 - round(datum.value*2)) < 0.001", "value": -14}, "value": -7}}}
          }
        },
        {
          "data": {"name": "obs"},
          "mark": {"type": "square", "size": 7, "color": "#000000", "opacity": 1},
          "encoding": {
            "x": {"field": "t", "type": "quantitative",
              "axis": {"orient": "top", "title": null, "labels": false,
                "values": [2588,2589,2590,2591,2592,2593,2594,2595,2596,2597,2598,2599,2600,2601,2602,2603,2604,2605,2606,2607,2608,2609,2610,2611,2612,2613,2614,2615,2616,2617,2618,2619,2620,2621,2622,2623,2624,2625,2626,2627,2628,2629,2630,2631,2632,2633,2634,2635,2636,2637,2638,2639,2640,2641,2642,2643,2644,2645,2646,2647],
                "tickSize": {"condition": {"test": "datum.value % 10 === 0", "value": -8}, "value": -4}}},
            "y": {"field": "o", "type": "quantitative",
              "axis": {"orient": "right", "title": null, "labels": false,
                "values": [0,-0.1,-0.2,-0.3,-0.4,-0.5,-0.6,-0.7,-0.8,-0.9,-1,-1.1,-1.2,-1.3,-1.4,-1.5,-1.6,-1.7,-1.8,-1.9,-2,-2.1,-2.2,-2.3,-2.4,-2.5],
                "tickSize": {"condition": {"test": "abs(datum.value*2 - round(datum.value*2)) < 0.001", "value": -14}, "value": -7}}}
          }
        },
        {
          "data": {"name": "tag"},
          "mark": {"type": "text", "font": "Liberation Mono", "fontSize": 21, "color": "#000000", "align": "center", "baseline": "middle"},
          "encoding": {
            "x": {"field": "t", "type": "quantitative", "axis": null},
            "y": {"field": "v", "type": "quantitative", "axis": null},
            "text": {"field": "s"}
          }
        }
      ]
    },
    {
      "width": 747,
      "height": 108,
      "resolve": {"axis": {"x": "independent", "y": "independent"}},
      "layer": [
        {
          "data": {"name": "cuts"},
          "mark": {"type": "rule", "color": "#9a9a9a", "strokeWidth": 1.3},
          "encoding": {
            "x": {"field": "t", "type": "quantitative", "scale": {"domain": [2587.08, 2647.65], "nice": false, "zero": false}, "axis": null}
          }
        },
        {
          "data": {"name": "obs"},
          "mark": {"type": "square", "size": 7, "color": "#000000", "opacity": 1},
          "encoding": {
            "x": {"field": "t", "type": "quantitative", "scale": {"domain": [2587.08, 2647.65], "nice": false, "zero": false},
              "axis": {"orient": "bottom", "title": "t (CoRoT day)", "titleFont": "Liberation Mono", "titleFontSize": 15, "titlePadding": -4,
                "format": "d", "labelFontSize": 17, "labelPadding": 20,
                "values": [2588,2589,2590,2591,2592,2593,2594,2595,2596,2597,2598,2599,2600,2601,2602,2603,2604,2605,2606,2607,2608,2609,2610,2611,2612,2613,2614,2615,2616,2617,2618,2619,2620,2621,2622,2623,2624,2625,2626,2627,2628,2629,2630,2631,2632,2633,2634,2635,2636,2637,2638,2639,2640,2641,2642,2643,2644,2645,2646,2647],
                "labelExpr": "datum.value % 10 === 0 ? datum.label : ''",
                "tickSize": {"condition": {"test": "datum.value % 10 === 0", "value": -8}, "value": -4}}},
            "y": {"field": "r", "type": "quantitative", "scale": {"domain": [-0.205, 0.322], "nice": false, "zero": false},
              "axis": {"orient": "left", "title": "10³ residuals", "titlePadding": 24, "format": ".1f", "labelPadding": 7,
                "values": [-0.2,-0.19,-0.18,-0.17,-0.16,-0.15,-0.14,-0.13,-0.12,-0.11,-0.1,-0.09,-0.08,-0.07,-0.06,-0.05,-0.04,-0.03,-0.02,-0.01,0,0.01,0.02,0.03,0.04,0.05,0.06,0.07,0.08,0.09,0.1,0.11,0.12,0.13,0.14,0.15,0.16,0.17,0.18,0.19,0.2,0.21,0.22,0.23,0.24,0.25,0.26,0.27,0.28,0.29,0.3,0.31,0.32],
                "labelExpr": "abs(datum.value*10 - round(datum.value*10)) < 0.001 ? datum.label : ''",
                "tickSize": {"condition": {"test": "abs(datum.value*10 - round(datum.value*10)) < 0.001", "value": -14}, "value": -7}}}
          }
        },
        {
          "data": {"name": "obs"},
          "mark": {"type": "square", "size": 7, "opacity": 0},
          "encoding": {
            "x": {"field": "t", "type": "quantitative",
              "axis": {"orient": "top", "title": null, "ticks": false, "format": "d", "labelFontSize": 17, "labelPadding": -26,
                "values": [2590,2600,2610,2620,2630,2640]}},
            "y": {"field": "r", "type": "quantitative",
              "axis": {"orient": "right", "title": null, "labels": false,
                "values": [-0.2,-0.19,-0.18,-0.17,-0.16,-0.15,-0.14,-0.13,-0.12,-0.11,-0.1,-0.09,-0.08,-0.07,-0.06,-0.05,-0.04,-0.03,-0.02,-0.01,0,0.01,0.02,0.03,0.04,0.05,0.06,0.07,0.08,0.09,0.1,0.11,0.12,0.13,0.14,0.15,0.16,0.17,0.18,0.19,0.2,0.21,0.22,0.23,0.24,0.25,0.26,0.27,0.28,0.29,0.3,0.31,0.32],
                "tickSize": {"condition": {"test": "abs(datum.value*10 - round(datum.value*10)) < 0.001", "value": -14}, "value": -7}}}
          }
        }
      ]
    }
  ]
}
